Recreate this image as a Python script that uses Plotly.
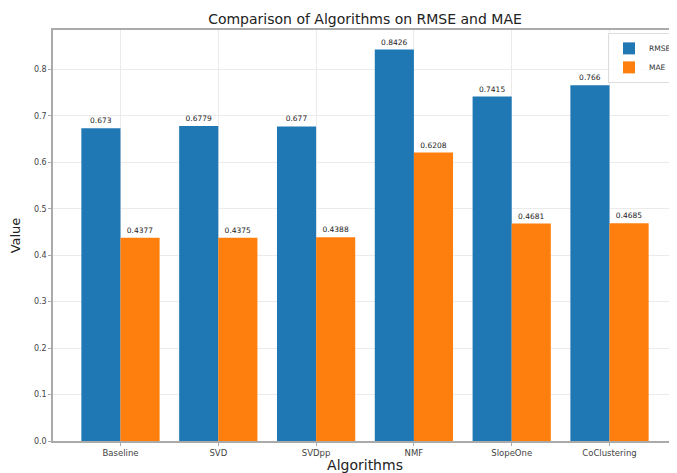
import plotly.graph_objects as go

algorithms = ["Baseline", "SVD", "SVDpp", "NMF", "SlopeOne", "CoClustering"]
rmse = [0.673, 0.6779, 0.677, 0.8426, 0.7415, 0.766]
mae = [0.4377, 0.4375, 0.4388, 0.6208, 0.4681, 0.4685]
y_ticks = [0.0, 0.1, 0.2, 0.3, 0.4, 0.5, 0.6, 0.7, 0.8]

fig = go.Figure()
fig.add_trace(go.Bar(x=algorithms, y=rmse, name="RMSE", marker_color="#1f77b4",
                     marker_line_width=0,
                     text=[str(v) for v in rmse], textposition="outside",
                     textfont=dict(size=7.5, color="#222"), cliponaxis=False))
fig.add_trace(go.Bar(x=algorithms, y=mae, name="MAE", marker_color="#ff7f0e",
                     marker_line_width=0,
                     text=[str(v) for v in mae], textposition="outside",
                     textfont=dict(size=7.5, color="#222"), cliponaxis=False))

W, H = 669, 465
fig.update_layout(
    width=W, height=H,
    margin=dict(l=45, r=0, t=22, b=32, autoexpand=False),
    barmode="group", bargap=0.2, bargroupgap=0,
    paper_bgcolor="white", plot_bgcolor="white",
    font=dict(family="DejaVu Sans", color="#333"),
    title=dict(text="Comparison of Algorithms on RMSE and MAE", x=0.5, xanchor="center",
               xref="paper", y=1 - 11 / H, yanchor="middle",
               font=dict(size=14, color="#222")),
    legend=dict(x=1.0, y=0.993, xanchor="right", yanchor="top",
                bgcolor="rgba(255,255,255,0.8)", bordercolor="#ddd", borderwidth=1,
                font=dict(size=7.5, color="#333"), itemwidth=30, tracegroupgap=0),
    uniformtext=dict(minsize=7, mode="show"),
)
fig.update_xaxes(
    range=[-0.69, 5.69], showgrid=True, gridcolor="#ebebeb", gridwidth=1,
    showline=True, linecolor="#aaa", linewidth=1.5, mirror=True,
    ticks="outside", ticklen=3, tickcolor="#aaa",
    tickfont=dict(size=8.5, color="#444"), automargin=False,
    title=dict(text="Algorithms", font=dict(size=14, color="#222"), standoff=8),
)
fig.update_yaxes(
    range=[0, 0.8847], tickvals=y_ticks, ticktext=[f"{t:.1f}" for t in y_ticks],
    showgrid=True, gridcolor="#ebebeb", gridwidth=1,
    showline=True, linecolor="#aaa", linewidth=1.5, mirror=True,
    ticks="outside", ticklen=3, tickcolor="#aaa",
    tickfont=dict(size=8, color="#444"), zeroline=False, automargin=False,
    title=dict(text="Value", font=dict(size=13, color="#222"), standoff=11),
)

fig.write_html("out.html")
